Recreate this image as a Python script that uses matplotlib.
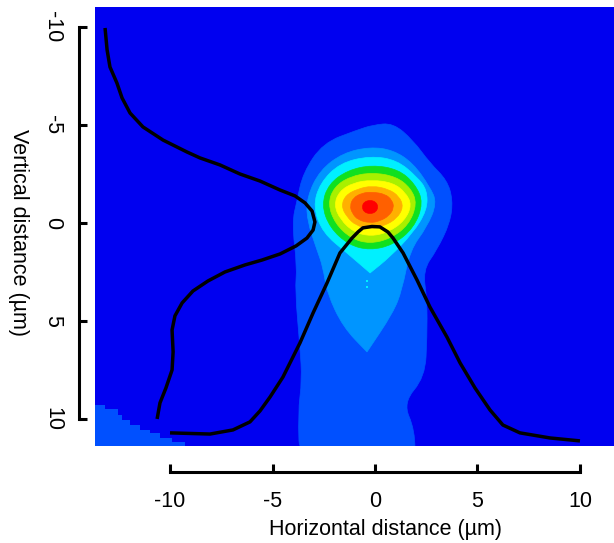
"""Beam intensity map with vertical and horizontal profile curves."""
from __future__ import annotations

import matplotlib

matplotlib.use("Agg")
import matplotlib.pyplot as plt
from matplotlib.patches import PathPatch, Polygon
from matplotlib.path import Path

# Profile curves, in micrometres
vert_profile_x = [-13.17, -13.07, -12.93, -12.59, -12.34, -11.95, -11.32, -10.34, -9.17, -8.54, -7.56,
                  -6.59, -5.61, -4.63, -3.9, -3.41, -3.07, -2.93, -3.02, -3.32, -3.85, -4.63, -5.51,
                  -6.34, -7.32, -8.15, -8.88, -9.41, -9.76, -9.9, -9.85, -9.9, -10.2, -10.49, -10.63]
vert_profile_y = [-9.95, -8.83, -7.96, -7.14, -6.38, -5.61, -4.9, -4.23, -3.62, -3.32, -2.96,
                  -2.5, -2.14, -1.68, -1.38, -1.02, -0.61, -0.05, 0.36, 0.77, 1.17, 1.58, 1.89,
                  2.14, 2.5, 2.96, 3.47, 4.08, 4.74, 5.46, 6.58, 7.5, 8.42, 9.18, 10.0]
horiz_profile_x = [-10, -8.05, -6.93, -6.1, -5.61, -5.12, -4.49, -3.66, -3.02, -2.34, -1.71, -1.12, -0.83, -0.59,
                   -0.15, 0.24, 0.63, 0.88, 1.37, 2.05, 2.68, 3.51, 4.15, 4.88, 5.61, 6.24, 7.07, 8.54, 10]
horiz_profile_y = [10.71, 10.77, 10.56, 10.15, 9.59, 8.88, 7.86, 6.12, 4.59, 3.06, 1.53, 0.77, 0.46, 0.25,
                   0.18, 0.2, 0.46, 0.77, 1.53, 2.91, 4.29, 5.82, 7.14, 8.42, 9.54, 10.31, 10.71, 10.97, 11.12]

# Intensity contour outlines, outermost first
level1 = [(-0.1, -5.0), (0.88, -5.1), (1.85, -4.23), (2.68, -3.06), (3.51, -2.19), (3.8, -1.17),
          (3.66, 0), (3.02, 1.38), (2.34, 2.4), (2.54, 3.93), (2.54, 5.82), (2.44, 7.86),
          (1.37, 9.18), (1.95, 10.56), (1.95, 12.5), (-3.66, 12.5), (-3.76, 9.69), (-3.56, 8.01),
          (-3.66, 6.33), (-3.9, 3.42), (-3.8, 2.24), (-4.05, 0), (-3.8, -1.17), (-3.51, -2.55),
          (-2.54, -4.08), (-0.88, -4.74)]
level2 = [(-0.24, -3.88), (0.88, -3.72), (1.85, -3.06), (2.68, -1.84), (3.02, -1.02), (2.54, 0.2),
          (1.71, 1.38), (1.32, 3.42), (0.88, 4.59), (-0.39, 6.58), (-0.39, 6.58), (-1.56, 5.31),
          (-2.34, 3.57), (-2.54, 2.24), (-2.83, 1.38), (-3.32, -0.15), (-3.32, -1.33), (-2.68, -2.7),
          (-1.56, -3.57)]
level3 = [(-0.24, -3.42), (1.07, -3.21), (2.05, -2.35), (2.54, -1.68), (2.54, -0.66), (1.85, 0.51),
          (0.73, 1.73), (-0.24, 2.55), (-0.24, 2.55), (-1.37, 1.53), (-2.54, 0.51), (-3.02, -0.82),
          (-2.68, -2.04), (-1.71, -3.06)]
level4 = [(-0.15, -2.96), (1.13, -2.74), (1.95, -2.0), (2.36, -1.03), (1.9, 0.25), (0.88, 1.12),
          (-0.25, 1.39), (-1.28, 1.12), (-2.2, 0.25), (-2.61, -0.92), (-2.25, -2.0), (-1.33, -2.69)]
level5 = [(-0.15, -2.58), (1.03, -2.37), (1.75, -1.77), (2.05, -0.98), (1.64, 0.1), (0.77, 0.79),
          (-0.25, 1.06), (-1.17, 0.79), (-1.94, 0.04), (-2.3, -0.98), (-1.99, -1.84), (-1.22, -2.37)]
level6 = [(-0.15, -2.2), (0.87, -2.05), (1.48, -1.57), (1.8, -0.92), (1.44, -0.11), (0.66, 0.47),
          (-0.2, 0.68), (-1.03, 0.47), (-1.69, -0.17), (-2.0, -0.92), (-1.74, -1.62), (-1.07, -2.05)]
level7 = [(-0.15, -1.9), (0.66, -1.73), (1.18, -1.36), (1.39, -0.82), (1.07, -0.23), (0.46, 0.14),
          (-0.2, 0.31), (-0.92, 0.14), (-1.39, -0.33), (-1.64, -0.87), (-1.44, -1.41), (-0.87, -1.73)]
level8 = [(-0.15, -1.58), (0.49, -1.48), (0.83, -1.17), (0.93, -0.77), (0.68, -0.36), (0.24, -0.1),
          (-0.24, 0), (-0.83, -0.15), (-1.12, -0.51), (-1.22, -0.87), (-1.07, -1.28), (-0.63, -1.53)]
level9 = [(-0.24, -1.17), (0.05, -1.07), (0.15, -0.82), (0.05, -0.56), (-0.24, -0.46), (-0.54, -0.56),
          (-0.63, -0.82), (-0.54, -1.07)]
corner_patch = [(-13.66, 9.29), (-13.17, 9.29), (-13.17, 9.49), (-12.54, 9.49), (-12.54, 9.8), (-12.34, 9.8),
                (-12.34, 10.05), (-11.95, 10.05), (-11.95, 10.31), (-11.46, 10.31), (-11.46, 10.56),
                (-10.98, 10.56), (-10.98, 10.71), (-10.49, 10.71), (-10.49, 10.97), (-9.9, 10.97),
                (-9.9, 11.17), (-9.27, 11.17), (-9.27, 11.38), (-13.66, 11.38)]
speck_x = [-0.39, -0.39]
speck_y = [3.27, 2.95]

levels = [level1, level2, level3, level4, level5, level6, level7, level8, level9]
level_colors = ["#0050ff", "#0095ff", "#00f0ff", "#10e020", "#a8f000", "#ffff00",
                "#ffb000", "#ff6000", "#ff0000"]
ticks = [-10, -5, 0, 5, 10]


def smooth_outline(points):
    # closed quadratic curve using the read points as control points
    verts = [((points[-1][0] + points[0][0]) / 2, (points[-1][1] + points[0][1]) / 2)]
    codes = [Path.MOVETO]
    for i, p in enumerate(points):
        q = points[(i + 1) % len(points)]
        verts += [p, ((p[0] + q[0]) / 2, (p[1] + q[1]) / 2)]
        codes += [Path.CURVE3, Path.CURVE3]
    return Path(verts, codes)


plt.rcParams["font.family"] = ["Liberation Sans", "DejaVu Sans"]
plt.rcParams["axes.unicode_minus"] = False

W, H = 614, 543
fig = plt.figure(figsize=(W / 100, H / 100), dpi=100)
ax = fig.add_axes([95 / W, 1 - 446 / H, 519 / W, 439 / H])
ax.set_facecolor("#0000f0")
ax.set_xlim(-13.66, 11.66)
ax.set_ylim(11.38, -11.02)

ax.add_patch(Polygon(corner_patch, closed=True, facecolor="#0050ff", edgecolor="none"))
for outline, color in zip(levels, level_colors):
    ax.add_patch(PathPatch(smooth_outline(outline), facecolor=color, edgecolor=color, linewidth=0.5))
ax.plot(speck_x, speck_y, "s", color="#00f0ff", markersize=2, markeredgewidth=0)

ax.plot(vert_profile_x, vert_profile_y, color="black", linewidth=2.5, solid_capstyle="butt", solid_joinstyle="round")
ax.plot(horiz_profile_x, horiz_profile_y, color="black", linewidth=2.5, solid_capstyle="butt", solid_joinstyle="round")

# Bracket-style axes standing off the map
for side in ["top", "right"]:
    ax.spines[side].set_visible(False)
ax.spines["left"].set_position(("outward", 11.5))
ax.spines["bottom"].set_position(("outward", 18.7))
ax.spines["left"].set_bounds(-10, 10)
ax.spines["bottom"].set_bounds(-10, 10)
ax.spines["left"].set_linewidth(2.2)
ax.spines["bottom"].set_linewidth(2.2)
ax.set_xticks(ticks)
ax.set_yticks(ticks)
ax.tick_params(axis="both", direction="in", length=5.5, width=2.2, labelsize=15.5)
ax.tick_params(axis="x", pad=14)
ax.tick_params(axis="y", pad=19)
for label in ax.get_yticklabels():
    label.set_rotation(270)
    label.set_va("center")
    label.set_ha("center")
ax.set_xlabel("Horizontal distance (µm)", fontsize=15.5, va="center")
ax.xaxis.set_label_coords(0.559, -0.191)
ax.set_ylabel("Vertical distance (µm)", fontsize=15.5, rotation=270, va="center")
ax.yaxis.set_label_coords(-0.148, 0.487)

fig.savefig("out.png", dpi=100)
